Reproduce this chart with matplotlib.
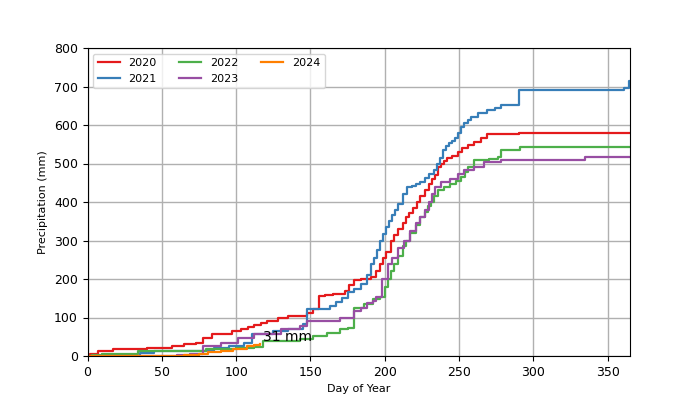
import matplotlib.pyplot as plt

# cumulative precipitation (mm) read at breakpoints, day of year
days_2020 = [0, 2, 7, 17, 40, 50, 57, 65, 73, 78, 84, 90, 97, 103, 108, 112, 117, 121, 128, 135, 148, 152, 156, 160, 165,
             170, 173, 176, 179, 184, 188, 191, 194, 197, 199, 201, 204, 206, 209, 212, 214, 216, 219, 222, 224, 227,
             230, 232, 234, 236, 238, 240, 242, 245, 249, 252, 256, 260, 265, 269, 290, 330, 365]
prcp_2020 = [0, 5, 13, 18, 20, 21, 26, 30, 34, 47, 57, 58, 65, 70, 76, 80, 86, 91, 100, 104, 112, 122, 156, 158, 160,
             162, 170, 185, 198, 200, 200, 205, 222, 239, 255, 270, 300, 315, 330, 345, 360, 372, 385, 400, 415, 430,
             447, 460, 470, 490, 500, 507, 513, 520, 529, 540, 548, 555, 565, 577, 578, 579, 579]

days_2021 = [0, 35, 45, 60, 75, 85, 95, 105, 111, 125, 135, 145, 148, 159, 163, 167, 171, 175, 179, 184, 188, 191, 193,
             195, 197, 199, 201, 203, 205, 207, 209, 212, 215, 218, 221, 224, 227, 230, 233, 235, 237, 239, 241, 243, 245,
             247, 249, 251, 253, 256, 258, 263, 269, 274, 278, 288, 290, 361, 364, 365]
prcp_2021 = [0, 8, 12, 12, 14, 20, 25, 35, 57, 66, 70, 83, 122, 122, 130, 140, 150, 165, 175, 187, 210, 239, 255,
             275, 300, 318, 334, 350, 365, 378, 395, 420, 438, 442, 446, 451, 462, 472, 482, 500, 513, 534, 545, 552, 558,
             565, 580, 594, 605, 612, 620, 630, 638, 645, 651, 651, 690, 695, 715, 715]

days_2022 = [0, 3, 10, 34, 60, 80, 100, 112, 118, 143, 152, 161, 170, 175, 179, 186, 192, 197, 200, 202, 204, 206, 209,
             212, 214, 217, 221, 224, 227, 229, 231, 233, 236, 240, 244, 248, 251, 254, 256, 260, 270, 276, 278, 291, 365]
prcp_2022 = [0, 2, 5, 12, 14, 18, 20, 23, 39, 44, 52, 60, 70, 73, 125, 135, 148, 152, 180, 200, 220, 239, 260,
             285, 300, 320, 340, 360, 375, 390, 400, 415, 430, 438, 447, 455, 464, 478, 490, 508, 512, 516, 534, 542, 544]

days_2023 = [0, 60, 69, 78, 90, 101, 112, 130, 143, 148, 170, 179, 184, 188, 192, 194, 198, 202, 205, 209, 213, 217, 221,
             224, 227, 230, 232, 234, 238, 244, 249, 253, 260, 267, 278, 335, 365]
prcp_2023 = [0, 2, 5, 26, 34, 47, 57, 70, 78, 91, 99, 117, 125, 138, 143, 152, 200, 239, 255, 280, 300, 325, 345,
             360, 380, 400, 420, 438, 451, 460, 473, 482, 492, 503, 508, 516, 516]

days_2024 = [0, 50, 65, 75, 81, 90, 98, 107, 112, 116]
prcp_2024 = [0, 1, 3, 6, 10, 14, 18, 26, 29, 31]

years = ["2020", "2021", "2022", "2023", "2024"]
colors = ["#e41a1c", "#377eb8", "#4daf4a", "#984ea3", "#ff7f00"]
all_days = [days_2020, days_2021, days_2022, days_2023, days_2024]
all_prcp = [prcp_2020, prcp_2021, prcp_2022, prcp_2023, prcp_2024]

fig, ax = plt.subplots(figsize=(7, 4), dpi=100)
for yr, c, d, p in zip(years, colors, all_days, all_prcp):
    ax.step(d, p, where="post", color=c, linewidth=1.6, label=yr)

ax.text(days_2024[-1] + 2, prcp_2024[-1] + 18, f"{prcp_2024[-1]} mm", va="center", fontsize=10)

ax.set(xlim=(0, 365), ylim=(0, 800))
ax.set_xlabel("Day of Year", fontsize=8)
ax.set_ylabel("Precipitation (mm)", fontsize=8)
ax.tick_params(labelsize=9)
ax.grid(True, color="#b0b0b0", linewidth=1)
ax.legend(loc="upper left", ncol=3, fontsize=8)
fig.savefig("out.png")
